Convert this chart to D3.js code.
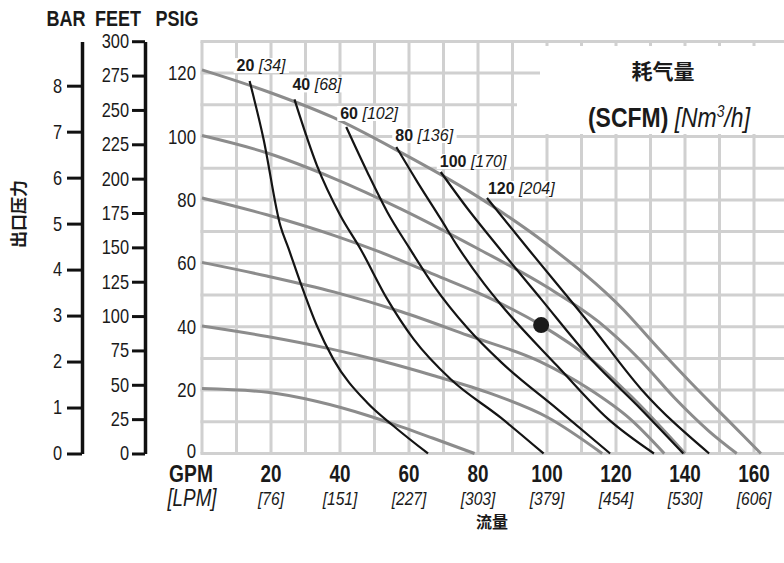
<!DOCTYPE html>
<html>
<head>
<meta charset="utf-8">
<script src="https://cdn.jsdelivr.net/npm/d3@7"></script>
<style>
  body { margin: 0; background: #fff; }
  #visualization { width: 784px; height: 563px; overflow: hidden; }
</style>
</head>
<body>
<div id="visualization"></div>
<script>
// flow axis (GPM with LPM underneath)
const gpmTicks = [20, 40, 60, 80, 100, 120, 140, 160];
const lpmTicks = [76, 151, 227, 303, 379, 454, 530, 606];
// pressure axes
const psiTicks = [0, 20, 40, 60, 80, 100, 120];
const barTicks = [0, 1, 2, 3, 4, 5, 6, 7, 8];
const feetTicks = [0, 25, 50, 75, 100, 125, 150, 175, 200, 225, 250, 275, 300];

// air inlet pressure curves (grey), [gpm, psi]
const psi20 = [[0, 20.5], [19, 19.3], [33.4, 16.4], [48, 12], [57.6, 8.5], [67, 4.8], [79, 0]];
const psi40 = [[0, 40.2], [18.9, 36.9], [37.2, 33], [52.6, 29], [67, 24.6], [84, 18.8], [100, 11.5], [116, 0]];
const psi60 = [[0, 60.3], [18.8, 56], [38.2, 51], [57.6, 44.8], [77, 37.3], [98, 29], [112, 20.5], [124, 11], [134, 0]];
const psi80 = [[0, 80.6], [18.8, 75.3], [38.2, 68.8], [51.7, 63.5], [67.2, 56.5], [84, 48.7], [98.3, 40.5], [112.8, 29.7], [124.4, 18], [140, 0]];
const psi100 = [[0, 100.3], [18.9, 94.8], [38, 86.9], [57.6, 77.2], [80, 64.6], [100, 52.5], [115, 41.5], [127, 29.5], [137, 17.5], [147, 7], [155, 0]];
const psi120 = [[0, 121], [18.9, 114.2], [38, 106], [57.6, 95], [77, 83], [100, 66], [122, 45.5], [132, 33.5], [142, 22], [152, 11], [162, 0]];

// air consumption curves (black), [gpm, psi]
const scfm20 = [[13.8, 117.5], [17.8, 99.4], [22.7, 71.9], [25.1, 64.6], [28.5, 54], [33.3, 40.3], [38.1, 29.7], [47.9, 16], [55.6, 8.6], [65.5, 0]];
const scfm40 = [[26.8, 111.7], [33.3, 90.9], [40.1, 75.1], [45.9, 64.6], [53.7, 48.7], [61.4, 36], [72.1, 23.4], [86.6, 11.3], [99, 0]];
const scfm60 = [[41.8, 103], [47.9, 88.8], [53.7, 76.2], [60, 65], [67.2, 52.9], [77, 39.5], [87, 28.5], [103, 14], [118.3, 0]];
const scfm80 = [[56.3, 96.7], [62.4, 85.7], [69.2, 74], [74, 65.5], [81.8, 53.5], [86.6, 47], [103, 27.6], [117.6, 11], [131, 0]];
const scfm100 = [[69.2, 88.8], [77, 77.2], [84.7, 66.7], [98.3, 48.7], [112.8, 29.7], [127.3, 13.9], [139.5, 0]];
const scfm120 = [[82.6, 80.6], [94.5, 64.6], [112.8, 40.3], [127.3, 20.3], [147, 0]];

const scfmLabels = [20, 40, 60, 80, 100, 120];
const nm3hLabels = [34, 68, 102, 136, 170, 204];

// operating point
const dutyPoint = [98.3, 40.5];

const SANS = "'Liberation Sans',Arial,sans-serif";
const CJK = "'Noto Sans CJK SC','Noto Sans CJK TC',sans-serif";
const SQUEEZE = 0.82; // fake a condensed face by narrowing glyphs around their anchor

function condense(sel) {
  sel.each(function () {
    const ax = +(this.getAttribute("x") || 0);
    d3.select(this).attr("transform",
      "translate(" + ax + ",0) scale(" + SQUEEZE + ",1) translate(" + (-ax) + ",0)");
  });
}

class PumpCurveChart {
  constructor() {
    this.width = 784;
    this.height = 563;
    this.buildScales();
    this.buildSvg();
    this.drawGrid();
    this.drawLegendBox();
    this.drawCurves();
    this.drawPressureAxes();
    this.drawFlowAxis();
    this.drawTitles();
  }

  buildScales() {
    this.x = d3.scaleLinear().domain([0, 170]).range([202, 202 + 170 * 3.45]);
    this.y = d3.scaleLinear().domain([0, 130]).range([453.5, 453.5 - 130 * 3.17]);
    this.bar = d3.scaleLinear().domain([0, 130 / 14.5038]).range(this.y.range());
    this.feet = d3.scaleLinear().domain([0, 130 * 2.3067]).range(this.y.range());
  }

  buildSvg() {
    this.svg = d3.select("#visualization").append("svg")
      .attr("width", this.width)
      .attr("height", this.height);
  }

  drawGrid() {
    const g = this.svg.append("g").attr("class", "grid")
      .attr("stroke", "#d0d0d0").attr("stroke-width", 3);
    g.selectAll("line.v").data(d3.range(0, 161, 10)).join("line")
      .attr("class", "v")
      .attr("x1", d => this.x(d)).attr("x2", d => this.x(d))
      .attr("y1", this.y(130)).attr("y2", this.y(0));
    g.selectAll("line.h").data(d3.range(0, 131, 10)).join("line")
      .attr("class", "h")
      .attr("x1", this.x(0) - 1.5).attr("x2", this.width)
      .attr("y1", d => this.y(d)).attr("y2", d => this.y(d));
  }

  drawLegendBox() {
    const g = this.svg.append("g");
    g.append("rect").attr("x", 540).attr("y", 46).attr("width", 250).attr("height", 54).attr("fill", "#fff");
    g.append("rect").attr("x", 517).attr("y", 99).attr("width", 270).attr("height", 35).attr("fill", "#fff");

    g.append("text")
      .attr("x", 663).attr("y", 79)
      .attr("text-anchor", "middle")
      .style("font-family", CJK).style("font-weight", "bold").style("font-size", "21px")
      .attr("fill", "#1a1a1a")
      .text("耗气量");

    const t = g.append("text")
      .attr("x", 669).attr("y", 127)
      .attr("text-anchor", "middle")
      .style("font-family", SANS).style("font-size", "28px")
      .attr("fill", "#1a1a1a");
    t.append("tspan").style("font-weight", "bold").text("(SCFM) ");
    t.append("tspan").style("font-style", "italic").text("[Nm");
    t.append("tspan").style("font-style", "italic").style("font-size", "17px").attr("dy", -10).text("3");
    t.append("tspan").style("font-style", "italic").attr("dy", 10).text("/h]");
    condense(t);
  }

  drawCurves() {
    const line = d3.line()
      .x(d => this.x(d[0]))
      .y(d => this.y(d[1]))
      .curve(d3.curveMonotoneX);

    const airCurves = [psi20, psi40, psi60, psi80, psi100, psi120];
    const flowCurves = [scfm20, scfm40, scfm60, scfm80, scfm100, scfm120];

    // consumption labels sit on white patches that knock out the grid
    const labelNudge = [[-13, -10], [-2, -9], [-6, -8], [-1, -6], [-1, -5], [1, -4]];
    const labels = this.svg.append("g").attr("class", "curve-labels");
    const texts = flowCurves.map((c, i) => {
      const t = labels.append("text")
        .attr("x", this.x(c[0][0]) + labelNudge[i][0])
        .attr("y", this.y(c[0][1]) + labelNudge[i][1])
        .style("font-family", SANS).style("font-size", "16px")
        .attr("fill", "#1a1a1a");
      t.append("tspan").style("font-weight", "bold").text(scfmLabels[i] + " ");
      t.append("tspan").style("font-style", "italic").text("[" + nm3hLabels[i] + "]");
      return t;
    });
    texts.forEach(t => {
      const b = t.node().getBBox();
      labels.insert("rect", "text")
        .attr("x", b.x - 3).attr("y", b.y + 1)
        .attr("width", b.width + 6).attr("height", b.height - 2)
        .attr("fill", "#fff");
    });

    this.svg.append("g").attr("class", "air")
      .selectAll("path").data(airCurves).join("path")
      .attr("d", line)
      .attr("fill", "none")
      .attr("stroke", "#8c8c8c")
      .attr("stroke-width", 3);

    this.svg.append("g").attr("class", "consumption")
      .selectAll("path").data(flowCurves).join("path")
      .attr("d", line)
      .attr("fill", "none")
      .attr("stroke", "#141414")
      .attr("stroke-width", 2.2);

    this.svg.append("circle")
      .attr("cx", this.x(dutyPoint[0]))
      .attr("cy", this.y(dutyPoint[1]))
      .attr("r", 8)
      .attr("fill", "#1a1a1a");

    labels.raise();
  }

  styleAxis(g, size) {
    g.selectAll("text")
      .style("font-family", SANS)
      .style("font-size", size)
      .attr("fill", "#1a1a1a")
      .call(condense);
    g.selectAll(".tick line").attr("stroke", "#111").attr("stroke-width", 3);
    g.select(".domain").attr("stroke", "#111").attr("stroke-width", 3.5);
  }

  drawPressureAxes() {
    const barAxis = this.svg.append("g")
      .attr("transform", "translate(82,0)")
      .call(d3.axisLeft(this.bar).tickValues(barTicks).tickFormat(d3.format("d"))
        .tickSize(15).tickSizeOuter(0).tickPadding(5));
    this.styleAxis(barAxis, "20px");

    const feetAxis = this.svg.append("g")
      .attr("transform", "translate(145,0)")
      .call(d3.axisLeft(this.feet).tickValues(feetTicks).tickFormat(d3.format("d"))
        .tickSize(13).tickSizeOuter(0).tickPadding(3));
    this.styleAxis(feetAxis, "20px");

    const psiAxis = this.svg.append("g")
      .attr("transform", "translate(" + this.x(0) + ",0)")
      .call(d3.axisLeft(this.y).tickValues(psiTicks).tickFormat(d3.format("d"))
        .tickSize(0).tickPadding(6));
    this.styleAxis(psiAxis, "20.5px");
    psiAxis.select(".domain").remove();
    // the zero sits tight above the GPM caption; lift it a touch
    psiAxis.selectAll(".tick text").filter(d => d === 0).attr("dy", "0.2em");

    const head = this.svg.append("g")
      .style("font-family", SANS).style("font-weight", "bold").style("font-size", "22px")
      .attr("fill", "#1a1a1a").attr("text-anchor", "middle");
    head.append("text").attr("x", 66).attr("y", 26).text("BAR");
    head.append("text").attr("x", 118).attr("y", 26).text("FEET");
    head.append("text").attr("x", 177).attr("y", 26).text("PSIG");
    head.selectAll("text").call(condense);
  }

  drawFlowAxis() {
    const g = this.svg.append("g").attr("fill", "#1a1a1a")
      .style("font-family", SANS).attr("text-anchor", "middle");
    g.selectAll("text.gpm").data(gpmTicks).join("text")
      .attr("class", "gpm")
      .attr("x", d => this.x(d)).attr("y", 482)
      .style("font-weight", "bold").style("font-size", "23px")
      .text(d => d);
    g.selectAll("text.lpm").data(lpmTicks).join("text")
      .attr("class", "lpm")
      .attr("x", (d, i) => this.x(gpmTicks[i])).attr("y", 505)
      .style("font-style", "italic").style("font-size", "19px")
      .text(d => "[" + d + "]");
    g.append("text").attr("x", 191).attr("y", 482)
      .style("font-weight", "bold").style("font-size", "23.5px").text("GPM");
    g.append("text").attr("x", 192).attr("y", 506)
      .style("font-style", "italic").style("font-size", "23px").text("[LPM]");
    g.selectAll("text").call(condense);
  }

  drawTitles() {
    this.svg.append("text")
      .attr("transform", "translate(25,214) rotate(-90)")
      .attr("text-anchor", "middle")
      .style("font-family", CJK).style("font-weight", "bold").style("font-size", "17px")
      .attr("fill", "#1a1a1a")
      .text("出口压力");
    this.svg.append("text")
      .attr("x", 492).attr("y", 528)
      .attr("text-anchor", "middle")
      .style("font-family", CJK).style("font-weight", "bold").style("font-size", "16px")
      .attr("fill", "#1a1a1a")
      .text("流量");
  }
}

new PumpCurveChart();
</script>
</body>
</html>
